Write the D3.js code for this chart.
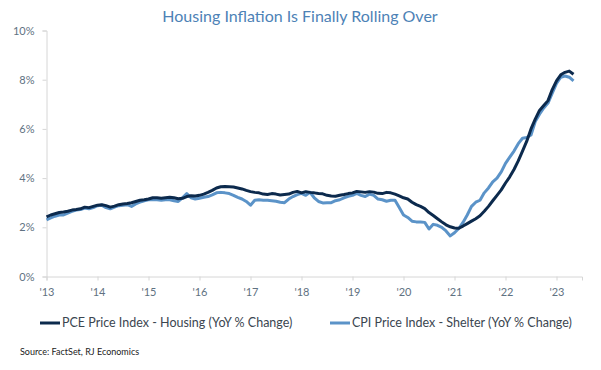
<!DOCTYPE html>
<html>
<head>
<meta charset="utf-8">
<script src="https://cdn.jsdelivr.net/npm/d3@7"></script>
<style>
  body { margin: 0; background: #fff; }
  svg text { font-family: "Lato", "Open Sans", sans-serif; }
</style>
</head>
<body>
<div id="chart"></div>
<script>
// Monthly YoY % change, Jan 2013 through May 2023
const startYear = 2013;
const pceHousing = [
  2.42, 2.5, 2.55, 2.6, 2.62, 2.65, 2.7, 2.72, 2.75, 2.82, 2.8, 2.85,
  2.9, 2.92, 2.88, 2.82, 2.86, 2.92, 2.95, 2.97, 3.0, 3.05, 3.1, 3.12,
  3.15, 3.2, 3.2, 3.18, 3.2, 3.22, 3.2, 3.16, 3.18, 3.25, 3.28, 3.27,
  3.3, 3.35, 3.42, 3.5, 3.6, 3.65, 3.66, 3.65, 3.64, 3.6, 3.56, 3.5,
  3.45, 3.42, 3.4, 3.35, 3.33, 3.37, 3.35, 3.31, 3.33, 3.35, 3.42, 3.46,
  3.4, 3.45, 3.42, 3.4, 3.37, 3.36, 3.3, 3.27, 3.26, 3.3, 3.33, 3.37,
  3.4, 3.46, 3.44, 3.42, 3.45, 3.43, 3.38, 3.37, 3.42, 3.4, 3.35, 3.28,
  3.2, 3.15, 3.02, 2.92, 2.85, 2.76, 2.6, 2.48, 2.35, 2.22, 2.1, 2.02,
  1.97, 1.96, 2.05, 2.15, 2.25, 2.35, 2.47, 2.65, 2.85, 3.08, 3.3, 3.52,
  3.8, 4.05, 4.35, 4.7, 5.1, 5.5, 6.0, 6.4, 6.75, 6.95, 7.15, 7.6,
  7.95, 8.2, 8.3, 8.35, 8.22
];
const cpiShelter = [
  2.3, 2.38, 2.45, 2.5, 2.5, 2.58, 2.65, 2.7, 2.72, 2.78, 2.75, 2.8,
  2.88, 2.9, 2.8, 2.75, 2.82, 2.88, 2.9, 2.92, 2.85, 2.95, 3.02, 3.08,
  3.12, 3.12, 3.12, 3.1, 3.12, 3.12, 3.08, 3.05, 3.2, 3.37, 3.2, 3.15,
  3.18, 3.22, 3.25, 3.32, 3.4, 3.42, 3.4, 3.37, 3.3, 3.22, 3.15, 3.05,
  2.9, 3.1, 3.12, 3.1, 3.1, 3.08, 3.06, 3.02, 3.0, 3.15, 3.25, 3.33,
  3.38, 3.3, 3.42, 3.2, 3.05, 2.99, 3.0, 3.0, 3.08, 3.12, 3.2, 3.26,
  3.3, 3.38, 3.3, 3.25, 3.35, 3.3, 3.15, 3.12, 3.06, 3.1, 3.1, 2.8,
  2.5, 2.4, 2.25, 2.22, 2.22, 2.2, 1.93, 2.12, 2.08, 2.0, 1.85, 1.65,
  1.78, 1.95, 2.2, 2.5, 2.85, 3.02, 3.1, 3.4, 3.6, 3.85, 4.0, 4.25,
  4.6, 4.85, 5.1, 5.4, 5.62, 5.65, 5.75, 6.3, 6.6, 6.85, 7.05, 7.45,
  7.85, 8.1, 8.15, 8.1, 7.95
];
const yearTicks = [2013, 2014, 2015, 2016, 2017, 2018, 2019, 2020, 2021, 2022, 2023];
const yTicks = [0, 2, 4, 6, 8, 10];
const seriesNames = ["PCE Price Index - Housing (YoY % Change)", "CPI Price Index - Shelter (YoY % Change)"];
const seriesColors = ["#0c2a4d", "#5b93c8"];

const width = 601, height = 370;
const svg = d3.select("#chart").append("svg")
    .attr("width", width)
    .attr("height", height);

// Scales
const x = d3.scaleLinear().domain([2013, 2023.5]).range([46.5, 582]);
const y = d3.scaleLinear().domain([0, 10]).range([276.5, 30.5]);

// Title
svg.append("text")
    .attr("x", 300)
    .attr("y", 22)
    .attr("text-anchor", "middle")
    .style("font-size", "16px")
    .style("fill", "#4d82b6")
    .text("Housing Inflation Is Finally Rolling Over");

// Y axis
const yAxis = svg.append("g")
    .attr("transform", `translate(${x(2013)},0)`)
    .call(d3.axisLeft(y).tickValues(yTicks).tickFormat(d => d + "%").tickSize(4).tickPadding(8));
yAxis.select(".domain").attr("stroke", "#d6d6d6");
yAxis.selectAll(".tick line").attr("stroke", "#d6d6d6");
yAxis.selectAll("text").style("font-size", "11px").style("fill", "#5f7282");

// X axis
const xAxis = svg.append("g")
    .attr("transform", `translate(0,${y(0)})`)
    .call(d3.axisBottom(x).tickValues(yearTicks).tickFormat(d => "'" + String(d).slice(2)).tickSizeOuter(0).tickSize(4).tickPadding(8));
xAxis.select(".domain").attr("stroke", "#d6d6d6");
xAxis.selectAll(".tick line").attr("stroke", "#d6d6d6");
xAxis.selectAll("text").style("font-size", "11px").style("fill", "#5f7282");

// Lines
const line = d3.line()
    .x((d, i) => x(startYear + i / 12))
    .y(d => y(d));

[cpiShelter, pceHousing].forEach((vals, k) => {
    svg.append("path")
        .datum(vals)
        .attr("fill", "none")
        .attr("stroke", k === 0 ? seriesColors[1] : seriesColors[0])
        .attr("stroke-width", 3)
        .attr("stroke-linejoin", "round")
        .attr("d", line);
});

// Legend
const legendX = [40, 330];
seriesNames.forEach((name, i) => {
    svg.append("line")
        .attr("x1", legendX[i]).attr("x2", legendX[i] + 20)
        .attr("y1", 323).attr("y2", 323)
        .attr("stroke", seriesColors[i])
        .attr("stroke-width", 3);
    svg.append("text")
        .attr("x", legendX[i] + 22)
        .attr("y", 327)
        .style("font-size", "12.5px")
        .style("fill", "#3b4650")
        .text(name);
});

// Source
svg.append("text")
    .attr("x", 20)
    .attr("y", 355)
    .style("font-size", "9px")
    .style("fill", "#222")
    .text("Source: FactSet, RJ Economics");
</script>
</body>
</html>
